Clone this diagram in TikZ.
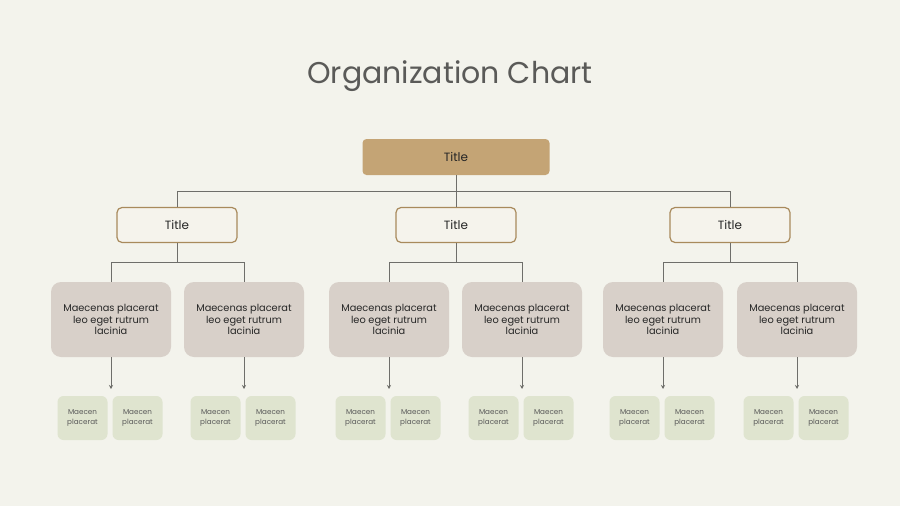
\documentclass[tikz,border=0pt]{standalone}
\usepackage{fontspec}
\setmainfont{Poppins}
\usetikzlibrary{arrows.meta}
\definecolor{bg}{HTML}{F3F3EC}
\definecolor{topfill}{HTML}{C4A475}
\definecolor{midline}{HTML}{A88A5C}
\definecolor{midfill}{HTML}{F5F3EC}
\definecolor{grayfill}{HTML}{D8D0C9}
\definecolor{greenfill}{HTML}{DFE4CF}
\definecolor{linec}{HTML}{6E6E6A}
\definecolor{titlec}{HTML}{5A5A58}
\begin{document}
\begin{tikzpicture}[x=1pt,y=-1pt,
  topbox/.style={draw=none,fill=topfill,rounded corners=4pt,minimum width=187pt,minimum height=36pt,inner sep=0pt,font=\fontsize{12}{14}\selectfont,text=black!85},
  midbox/.style={draw=midline,line width=1.2pt,fill=midfill,rounded corners=5pt,minimum width=120pt,minimum height=35pt,inner sep=0pt,font=\fontsize{12}{14}\selectfont,text=black!85},
  graybox/.style={fill=grayfill,rounded corners=10pt,minimum width=120pt,minimum height=75pt,inner sep=0pt,align=center,font=\fontsize{9.8}{11.5}\selectfont,text=black!85},
  greenbox/.style={fill=greenfill,rounded corners=6pt,minimum width=50pt,minimum height=44pt,inner sep=0pt,align=center,font=\fontsize{7.2}{9.5}\selectfont,text=black!65},
  conn/.style={draw=linec,line width=0.8pt},
  arr/.style={draw=linec,line width=0.8pt,-{Stealth[length=4pt,width=4pt]}}]
\useasboundingbox[fill=bg] (0,0) rectangle (900,506);
\node[text=titlec,font=\fontsize{30}{33}\selectfont] (title) at (450,76) {Organization Chart};
\node[topbox] (top) at (456,157) {Title};
\foreach \i/\x in {a/177,b/456,c/730}{
  \node[midbox] (m\i) at (\x,225) {Title};
}
\coordinate (hl) at (177,191);
\coordinate (hr) at (730,191);
\draw[conn] (top.south) -- (mb.north);
\draw[conn] (hl) -- (hr);
\draw[conn] (hl) -- (ma.north);
\draw[conn] (hr) -- (mc.north);
\foreach \p/\x/\l/\r in {a/177/111/244, b/456/389/522, c/730/663/797}{
  \node[graybox] (g\p1) at (\l,319.5) {Maecenas placerat\\leo eget rutrum\\lacinia};
  \node[graybox] (g\p2) at (\r,319.5) {Maecenas placerat\\leo eget rutrum\\lacinia};
  \coordinate (j\p) at (\x,262);
  \coordinate (jl\p) at (\l,262);
  \coordinate (jr\p) at (\r,262);
  \draw[conn] (m\p.south) -- (j\p);
  \draw[conn] (jl\p) -- (jr\p);
  \draw[conn] (jl\p) -- (g\p1.north);
  \draw[conn] (jr\p) -- (g\p2.north);
  \foreach \k/\c in {1/\l,2/\r}{
    \node[greenbox] (e\p\k a) at (\c-28.5,418) {Maecen\\placerat};
    \node[greenbox] (e\p\k b) at (\c+26.5,418) {Maecen\\placerat};
    \coordinate (t\p\k) at (\c,389);
    \draw[arr] (g\p\k.south) -- (t\p\k);
  }
}
\end{tikzpicture}
\end{document}
